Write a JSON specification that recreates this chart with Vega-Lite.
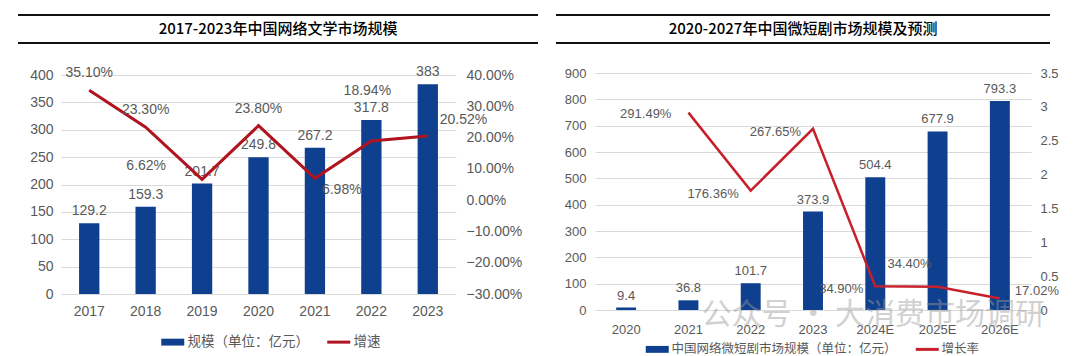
{
  "$schema": "https://vega.github.io/schema/vega-lite/v6.json",
  "background": "white",
  "padding": {"left": 17, "top": 14, "right": 0, "bottom": 0},
  "config": {
    "view": {"stroke": null},
    "font": "Liberation Sans, Noto Sans CJK SC",
    "axis": {"grid": false, "domain": false, "ticks": false, "title": null, "labelColor": "#595959", "labelFont": "Liberation Sans", "labelOverlap": false, "labelFlush": false},
    "legend": {"orient": "none", "direction": "horizontal", "title": null, "labelFont": "Noto Sans CJK SC", "labelColor": "#595959", "labelLimit": 400, "symbolSize": 529, "labelOffset": 8, "columnPadding": 12}
  },
  "datasets": {
    "lit": [
      {"year": "2017", "scale": 129.2, "growth": 0.351},
      {"year": "2018", "scale": 159.3, "growth": 0.233},
      {"year": "2019", "scale": 201.7, "growth": 0.0662},
      {"year": "2020", "scale": 249.8, "growth": 0.238},
      {"year": "2021", "scale": 267.2, "growth": 0.0698},
      {"year": "2022", "scale": 317.8, "growth": 0.1894},
      {"year": "2023", "scale": 383, "growth": 0.2052}
    ],
    "drama": [
      {"year": "2020", "scale": 9.4, "growth": null},
      {"year": "2021", "scale": 36.8, "growth": 2.9149},
      {"year": "2022", "scale": 101.7, "growth": 1.7636},
      {"year": "2023", "scale": 373.9, "growth": 2.6765},
      {"year": "2024E", "scale": 504.4, "growth": 0.349},
      {"year": "2025E", "scale": 677.9, "growth": 0.344},
      {"year": "2026E", "scale": 793.3, "growth": 0.1702}
    ],
    "rules": [{"y": 0}, {"y": 1}],
    "title1": [{"t": "2017-2023年中国网络文学市场规模"}],
    "title2": [{"t": "2020-2027年中国微短剧市场规模及预测"}],
    "mark": [{"t": "公众号 · 大消费市场调研", "year": "2024E", "v": -20}]
  },
  "spacing": 16,
  "resolve": {"scale": {"color": "independent"}, "legend": {"color": "independent"}},
  "hconcat": [
    {
      "spacing": 21,
      "vconcat": [
        {
          "width": 477, "height": 28,
          "layer": [
            {"data": {"name": "rules"}, "mark": {"type": "rule", "color": "#111111", "strokeWidth": 2},
             "encoding": {
               "x": {"datum": 0, "type": "quantitative", "scale": {"domain": [0, 1], "range": [-43, 477]}, "axis": null},
               "x2": {"datum": 1},
               "y": {"field": "y", "type": "quantitative", "scale": {"domain": [0, 1]}, "axis": null}}},
            {"data": {"name": "title1"}, "mark": {"type": "text", "font": "Noto Sans CJK SC", "fontSize": 15, "fontWeight": 500, "color": "#000000"},
             "encoding": {"text": {"field": "t"}, "x": {"datum": 0.5, "type": "quantitative"}, "y": {"datum": 0.5, "type": "quantitative"}}}
          ]
        },
        {
          "width": 395, "height": 219,
          "data": {"name": "lit"},
          "encoding": {
            "x": {"field": "year", "type": "ordinal", "scale": {"paddingInner": 0.64, "paddingOuter": 0.32},
                  "axis": {"labelAngle": 0, "labelFontSize": 14, "labelPadding": 10}}
          },
          "layer": [
            {
              "layer": [
                {"mark": {"type": "bar", "color": "#0f3f8f"},
                 "encoding": {
                   "y": {"field": "scale", "type": "quantitative", "scale": {"domain": [0, 400]},
                         "axis": {"values": [0, 50, 100, 150, 200, 250, 300, 350, 400], "tickCount": 20, "grid": true, "gridColor": "#d9d9d9", "labelFontSize": 14, "labelPadding": 8, "minExtent": 43}},
                   "color": {"datum": "规模（单位：亿元）", "type": "nominal",
                             "scale": {"domain": ["规模（单位：亿元）", "增速"], "range": ["#0f3f8f", "#b0141e"]},
                             "legend": {"labelFontSize": 13.5, "legendX": 105, "legendY": 320,
                               "encode": {"symbols": {"update": {
                                 "shape": {"signal": "datum.value === '增速' ? 'M-1,0H1' : 'M-1,-0.3H1V0.3H-1Z'"},
                                 "fill": {"signal": "datum.value === '增速' ? 'transparent' : '#0f3f8f'"},
                                 "stroke": {"signal": "datum.value === '增速' ? '#b0141e' : '#0f3f8f'"},
                                 "strokeWidth": {"signal": "datum.value === '增速' ? 3 : 0"}}}}}}
                 }},
                {"mark": {"type": "text", "dy": -12, "fontSize": 14, "color": "#595959", "font": "Liberation Sans"},
                 "encoding": {"y": {"field": "scale", "type": "quantitative"}, "text": {"field": "scale", "type": "nominal"}}}
              ]
            },
            {
              "layer": [
                {"mark": {"type": "line", "strokeWidth": 3},
                 "encoding": {
                   "y": {"field": "growth", "type": "quantitative", "scale": {"domain": [-0.3, 0.4]},
                         "axis": {"orient": "right", "values": [-0.3, -0.2, -0.1, 0, 0.1, 0.2, 0.3, 0.4], "tickCount": 20, "format": ".2%", "labelFontSize": 14, "labelPadding": 10}},
                   "color": {"datum": "增速", "type": "nominal"}
                 }},
                {"transform": [{"filter": {"field": "year", "oneOf": ["2017", "2018", "2020"]}}],
                 "mark": {"type": "text", "dy": -17, "fontSize": 14, "color": "#595959", "font": "Liberation Sans"},
                 "encoding": {"y": {"field": "growth", "type": "quantitative"}, "text": {"field": "growth", "type": "quantitative", "format": ".2%"}}},
                {"transform": [{"filter": {"field": "year", "equal": "2019"}}],
                 "mark": {"type": "text", "dx": -36, "dy": -13, "align": "right", "fontSize": 14, "color": "#595959", "font": "Liberation Sans"},
                 "encoding": {"y": {"field": "growth", "type": "quantitative"}, "text": {"field": "growth", "type": "quantitative", "format": ".2%"}}},
                {"transform": [{"filter": {"field": "year", "equal": "2021"}}],
                 "mark": {"type": "text", "dx": 7, "dy": 12, "align": "left", "fontSize": 14, "color": "#595959", "font": "Liberation Sans"},
                 "encoding": {"y": {"field": "growth", "type": "quantitative"}, "text": {"field": "growth", "type": "quantitative", "format": ".2%"}}},
                {"transform": [{"filter": {"field": "year", "equal": "2022"}}],
                 "mark": {"type": "text", "dx": -4, "dy": -50, "fontSize": 14, "color": "#595959", "font": "Liberation Sans"},
                 "encoding": {"y": {"field": "growth", "type": "quantitative"}, "text": {"field": "growth", "type": "quantitative", "format": ".2%"}}},
                {"transform": [{"filter": {"field": "year", "equal": "2023"}}],
                 "mark": {"type": "text", "dx": 12, "dy": -16, "align": "left", "fontSize": 14, "color": "#595959", "font": "Liberation Sans"},
                 "encoding": {"y": {"field": "growth", "type": "quantitative"}, "text": {"field": "growth", "type": "quantitative", "format": ".2%"}}}
              ]
            }
          ],
          "resolve": {"scale": {"y": "independent"}}
        }
      ]
    },
    {
      "spacing": 23,
      "vconcat": [
        {
          "width": 455, "height": 28,
          "layer": [
            {"data": {"name": "rules"}, "mark": {"type": "rule", "color": "#111111", "strokeWidth": 2},
             "encoding": {
               "x": {"datum": 0, "type": "quantitative", "scale": {"domain": [0, 1], "range": [-39, 455]}, "axis": null},
               "x2": {"datum": 1},
               "y": {"field": "y", "type": "quantitative", "scale": {"domain": [0, 1]}, "axis": null}}},
            {"data": {"name": "title2"}, "mark": {"type": "text", "font": "Noto Sans CJK SC", "fontSize": 15, "fontWeight": 500, "color": "#000000"},
             "encoding": {"text": {"field": "t"}, "x": {"datum": 0.5, "type": "quantitative"}, "y": {"datum": 0.5, "type": "quantitative"}}}
          ]
        },
        {
          "width": 436, "height": 237,
          "data": {"name": "drama"},
          "encoding": {
            "x": {"field": "year", "type": "ordinal", "scale": {"paddingInner": 0.68, "paddingOuter": 0.34},
                  "axis": {"labelAngle": 0, "labelFontSize": 13, "labelPadding": 13}}
          },
          "layer": [
            {
              "layer": [
                {"mark": {"type": "bar", "color": "#0f3f8f"},
                 "encoding": {
                   "y": {"field": "scale", "type": "quantitative", "scale": {"domain": [0, 900]},
                         "axis": {"values": [0, 100, 200, 300, 400, 500, 600, 700, 800, 900], "tickCount": 20, "grid": true, "gridColor": "#d9d9d9", "labelFontSize": 13, "labelPadding": 9, "minExtent": 39}},
                   "color": {"datum": "中国网络微短剧市场规模（单位：亿元）", "type": "nominal",
                             "scale": {"domain": ["中国网络微短剧市场规模（单位：亿元）", "增长率"], "range": ["#0f3f8f", "#c8202b"]},
                             "legend": {"labelFontSize": 12.5, "legendX": 56, "legendY": 328,
                               "encode": {"symbols": {"update": {
                                 "shape": {"signal": "datum.value === '增长率' ? 'M-1,0H1' : 'M-1,-0.3H1V0.3H-1Z'"},
                                 "fill": {"signal": "datum.value === '增长率' ? 'transparent' : '#0f3f8f'"},
                                 "stroke": {"signal": "datum.value === '增长率' ? '#c8202b' : '#0f3f8f'"},
                                 "strokeWidth": {"signal": "datum.value === '增长率' ? 3 : 0"}}}}}}
                 }},
                {"mark": {"type": "text", "dy": -12, "fontSize": 13, "color": "#595959", "font": "Liberation Sans"},
                 "encoding": {"y": {"field": "scale", "type": "quantitative"}, "text": {"field": "scale", "type": "nominal"}}},
                {"data": {"name": "mark"},
                 "mark": {"type": "text", "dx": -2, "fontSize": 30, "font": "Noto Sans CJK SC", "color": "#9a9a9a", "opacity": 0.45},
                 "encoding": {"x": {"field": "year", "type": "ordinal"}, "y": {"field": "v", "type": "quantitative"}, "text": {"field": "t"}}}
              ]
            },
            {
              "transform": [{"filter": "isValid(datum.growth)"}],
              "layer": [
                {"mark": {"type": "line", "strokeWidth": 2.5},
                 "encoding": {
                   "y": {"field": "growth", "type": "quantitative", "scale": {"domain": [0, 3.5]},
                         "axis": {"orient": "right", "values": [0, 0.5, 1, 1.5, 2, 2.5, 3, 3.5], "tickCount": 20, "format": "~g", "labelFontSize": 13, "labelPadding": 9}},
                   "color": {"datum": "增长率", "type": "nominal"}
                 }},
                {"transform": [{"filter": {"field": "year", "equal": "2021"}}],
                 "mark": {"type": "text", "dx": -17, "dy": 1, "align": "right", "fontSize": 13, "color": "#595959", "font": "Liberation Sans"},
                 "encoding": {"y": {"field": "growth", "type": "quantitative"}, "text": {"field": "growth", "type": "quantitative", "format": ".2%"}}},
                {"transform": [{"filter": {"field": "year", "oneOf": ["2022", "2023", "2024E"]}}],
                 "mark": {"type": "text", "dx": -12, "dy": 3, "align": "right", "fontSize": 13, "color": "#595959", "font": "Liberation Sans"},
                 "encoding": {"y": {"field": "growth", "type": "quantitative"}, "text": {"field": "growth", "type": "quantitative", "format": ".2%"}}},
                {"transform": [{"filter": {"field": "year", "equal": "2025E"}}],
                 "mark": {"type": "text", "dx": -6, "dy": -23, "align": "right", "fontSize": 13, "color": "#595959", "font": "Liberation Sans"},
                 "encoding": {"y": {"field": "growth", "type": "quantitative"}, "text": {"field": "growth", "type": "quantitative", "format": ".2%"}}},
                {"transform": [{"filter": {"field": "year", "equal": "2026E"}}],
                 "mark": {"type": "text", "dx": 15, "dy": -7, "align": "left", "fontSize": 13, "color": "#595959", "font": "Liberation Sans"},
                 "encoding": {"y": {"field": "growth", "type": "quantitative"}, "text": {"field": "growth", "type": "quantitative", "format": ".2%"}}}
              ]
            }
          ],
          "resolve": {"scale": {"y": "independent"}}
        }
      ]
    }
  ]
}
